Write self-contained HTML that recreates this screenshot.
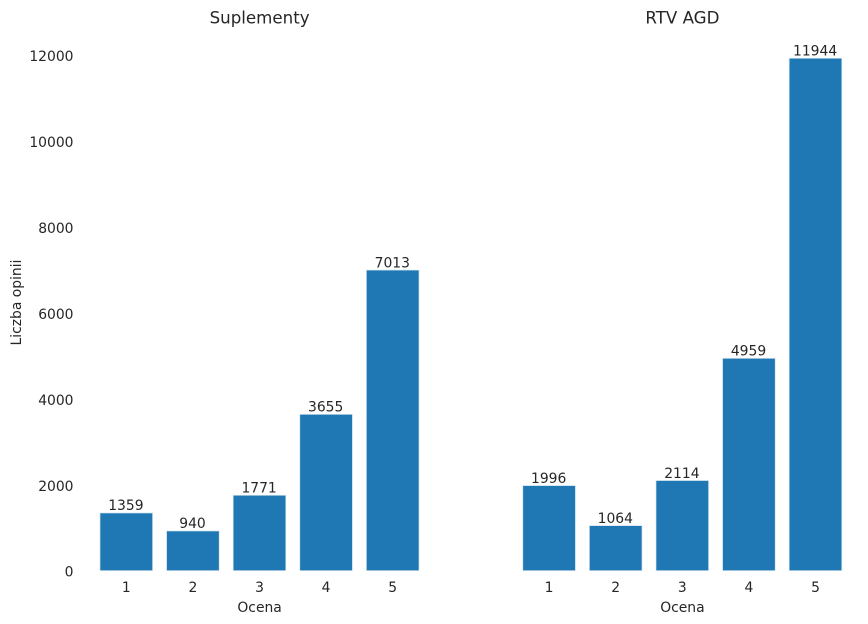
<!DOCTYPE html>
<html lang="pl">
<head>
<meta charset="utf-8">
<title>Liczba opinii wg oceny</title>
<style>
html,body{margin:0;padding:0;background:#fff}
svg{display:block}
text{font-family:"DejaVu Sans","Liberation Sans",sans-serif;fill:#262626}
</style>
</head>
<body>
<svg id="chart" xmlns="http://www.w3.org/2000/svg" width="868" height="624" viewBox="0 0 868 624"></svg>
<script>
const categories = [1, 2, 3, 4, 5];
const suplementyValues = [1359, 940, 1771, 3655, 7013];
const rtvAgdValues = [1996, 1064, 2114, 4959, 11944];
const yTickLabels = [0, 2000, 4000, 6000, 8000, 10000, 12000];
const panelTitles = ['Suplementy', 'RTV AGD'];

const NS = 'http://www.w3.org/2000/svg';
const svg = document.getElementById('chart');

const yScale = v => 571 - v * (515.5 / 12000);
const xScaleLeft = c => 126.3 + (c - 1) * 66.6;
const xScaleRight = c => 549.1 + (c - 1) * 66.6;
const barWidth = 53.3;

function addText(parent, x, y, str, size, anchor) {
  const t = document.createElementNS(NS, 'text');
  t.setAttribute('x', x);
  t.setAttribute('y', y);
  t.setAttribute('font-size', size);
  t.setAttribute('text-anchor', anchor);
  t.textContent = str;
  parent.appendChild(t);
  return t;
}

function addGroup(name) {
  const g = document.createElementNS(NS, 'g');
  
  
  svg.appendChild(g);
  return g;
}

function drawPanel(slug, title, values, xScale, centerX) {
  const panel = addGroup(slug + '-panel');

  const titleEl = addText(panel, centerX, 23.5, title, 16.67, 'middle');
  
  

  categories.forEach((c, i) => {
    const v = values[i];
    const cx = xScale(c);
    const top = yScale(v);

    const rect = document.createElementNS(NS, 'rect');
    rect.setAttribute('x', cx - barWidth / 2);
    rect.setAttribute('y', top);
    rect.setAttribute('width', barWidth);
    rect.setAttribute('height', yScale(0) - top);
    rect.setAttribute('fill', '#1f77b4');
    rect.setAttribute('stroke', '#ffffff');
    rect.setAttribute('stroke-opacity', '0.8');
    rect.setAttribute('stroke-width', '1.39');
    
    
    panel.appendChild(rect);

    const val = addText(panel, cx - 0.4, top - 2.4, String(v), 13.89, 'middle');
    
    

    const tick = addText(panel, cx, 592, String(c), 13.89, 'middle');
    
    
  });

  const xTitle = addText(panel, centerX, 612, 'Ocena', 13.89, 'middle');
  
  
}

const yAxis = addGroup('y-axis');
yTickLabels.forEach(v => {
  const t = addText(yAxis, 73.5, yScale(v) + 5.7, String(v), 13.89, 'end');
  
  
});

const yTitle = addText(yAxis, 0, 0, 'Liczba opinii', 13.89, 'middle');
yTitle.setAttribute('transform', 'translate(21 302.5) rotate(-90)');



drawPanel('suplementy', panelTitles[0], suplementyValues, xScaleLeft, 259.6);
drawPanel('rtv-agd', panelTitles[1], rtvAgdValues, xScaleRight, 682.4);
</script>
</body>
</html>
